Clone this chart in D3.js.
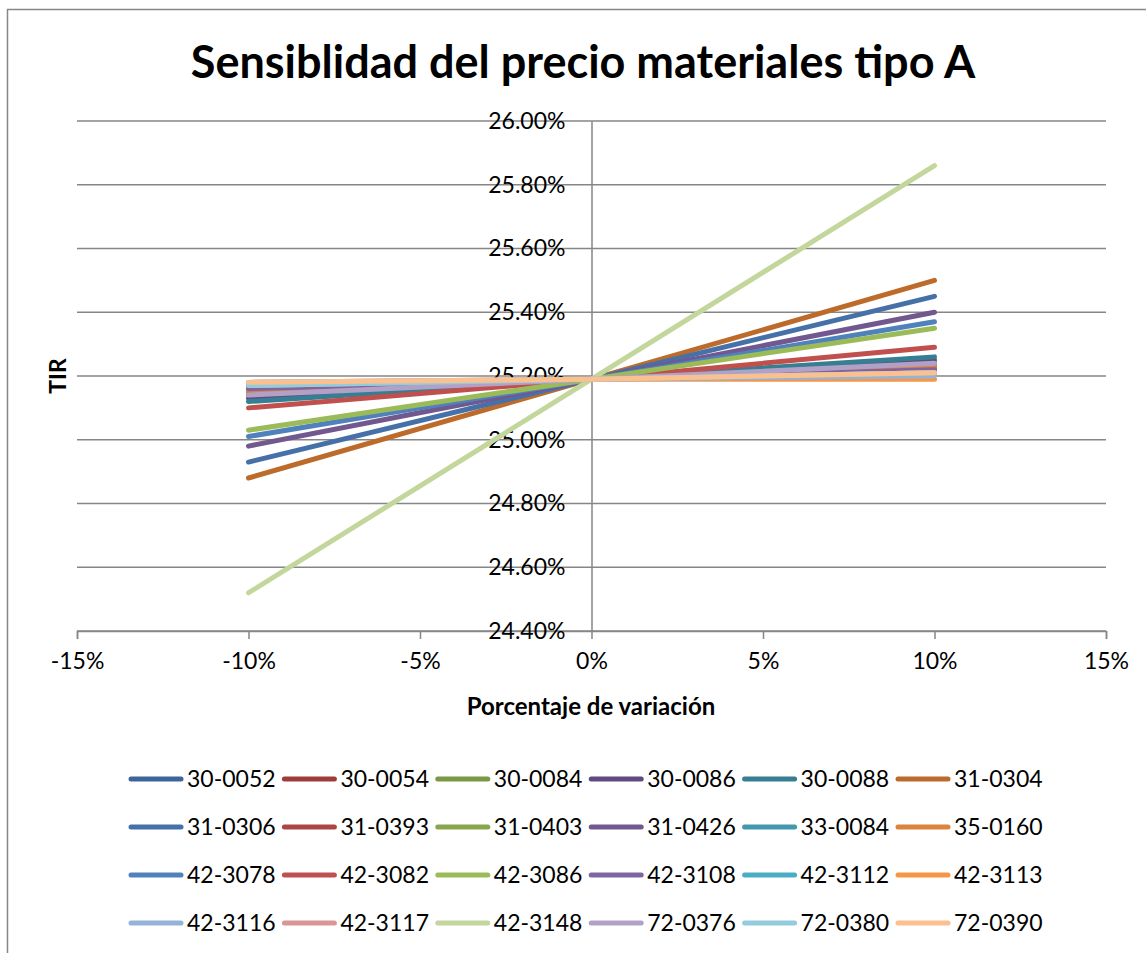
<!DOCTYPE html>
<html><head><meta charset="utf-8">
<script src="https://cdn.jsdelivr.net/npm/d3@7"></script>
<style>html,body{margin:0;padding:0;background:#fff;}svg{display:block;}</style>
</head><body>
<svg id="c" width="1146" height="953"></svg>
<script>
const title = "Sensiblidad del precio materiales tipo A";
const xTitle = "Porcentaje de variación";
const yTitle = "TIR";
const variations = [-0.10, 0, 0.10];
const seriesNames = ["30-0052","30-0054","30-0084","30-0086","30-0088","31-0304",
  "31-0306","31-0393","31-0403","31-0426","33-0084","35-0160",
  "42-3078","42-3082","42-3086","42-3108","42-3112","42-3113",
  "42-3116","42-3117","42-3148","72-0376","72-0380","72-0390"];
const seriesColors = ["#3C6699","#9D3D3A","#7D9845","#604B80","#367F93","#BD6B2B",
  "#4571A8","#AA4643","#89A54E","#71588F","#4198AF","#DB843D",
  "#4F81BD","#C0504D","#9BBB59","#8064A2","#4BACC6","#F79646",
  "#95B3D7","#D99694","#C3D69B","#B2A1C7","#93CDDD","#FAC090"];
// TIR (%) at -10%, 0%, +10%
const tirMinus10 = [25.14,25.15,25.16,25.13,25.12,24.88,
  24.93,25.16,25.17,24.98,25.17,25.15,
  25.01,25.10,25.03,25.16,25.17,25.18,
  25.18,25.17,24.52,25.14,25.17,25.18];
const tirZero = [25.19,25.19,25.19,25.19,25.19,25.19,
  25.19,25.19,25.19,25.19,25.19,25.19,
  25.19,25.19,25.19,25.19,25.19,25.19,
  25.19,25.19,25.19,25.19,25.19,25.19];
const tirPlus10 = [25.24,25.23,25.22,25.25,25.26,25.50,
  25.45,25.22,25.21,25.40,25.21,25.23,
  25.37,25.29,25.35,25.22,25.21,25.19,
  25.20,25.21,25.86,25.24,25.21,25.21];
const xTicks = [-0.15,-0.10,-0.05,0,0.05,0.10,0.15];
const yTicks = [24.4,24.6,24.8,25.0,25.2,25.4,25.6,25.8,26.0];

const FONT = "Lato, 'Open Sans', sans-serif";
const svg = d3.select("#c");
svg.append("rect").attr("x",7.5).attr("y",9.5).attr("width",1160).attr("height",960)
  .attr("fill","#fff").attr("stroke","#868686").attr("stroke-width",1.5);

const x = d3.scaleLinear().domain([-0.15,0.15]).range([77,1106]);
const y = d3.scaleLinear().domain([24.4,26.0]).range([631,121]);

// gridlines
svg.append("g").selectAll("line").data(yTicks).join("line")
  .attr("x1",x(-0.15)).attr("x2",x(0.15))
  .attr("y1",d=>y(d)).attr("y2",d=>y(d))
  .attr("stroke","#868686").attr("stroke-width",1.5);

// x axis at bottom
const xAxis = d3.axisBottom(x).tickValues(xTicks).tickSize(8).tickPadding(14)
  .tickFormat(d=>d3.format(".0%")(d).replace("−","-"));
const gx = svg.append("g").attr("transform",`translate(0,${y(24.4)})`).call(xAxis);
gx.select(".domain").attr("stroke","#868686").attr("stroke-width",1.5);
gx.selectAll(".tick line").attr("stroke","#868686").attr("stroke-width",1.5);
gx.selectAll("text").attr("font-family",FONT).attr("font-size",23).attr("fill","#000");

// y axis at x=0
const yAxis = d3.axisLeft(y).tickValues(yTicks).tickSize(0).tickPadding(26)
  .tickFormat(d=>d3.format(".2f")(d)+"%");
const gy = svg.append("g").attr("transform",`translate(${x(0)},0)`).call(yAxis);
gy.select(".domain").attr("stroke","#868686").attr("stroke-width",1.5);
gy.selectAll("text").attr("font-family",FONT).attr("font-size",23).attr("fill","#000");

// lines
const line = d3.line().x(d=>x(d[0])).y(d=>y(d[1]));
const seriesData = seriesNames.map((n,i)=>({name:n,color:seriesColors[i],
  pts:[[variations[0],tirMinus10[i]],[variations[1],tirZero[i]],[variations[2],tirPlus10[i]]]}));
svg.append("g").selectAll("path").data(seriesData).join("path")
  .attr("d",d=>line(d.pts)).attr("fill","none").attr("stroke",d=>d.color)
  .attr("stroke-width",5).attr("stroke-linecap","round").attr("stroke-linejoin","round");

// titles
svg.append("text").attr("x",583).attr("y",78).attr("text-anchor","middle")
  .attr("font-family",FONT).attr("font-weight","bold").attr("font-size",45).text(title);
svg.append("text").attr("x",591).attr("y",715).attr("text-anchor","middle")
  .attr("font-family",FONT).attr("font-weight","bold").attr("font-size",24).text(xTitle);
svg.append("text").attr("transform","translate(66,376) rotate(-90)").attr("text-anchor","middle")
  .attr("font-family",FONT).attr("font-weight","bold").attr("font-size",23).text(yTitle);

// legend
const colX = d3.scaleLinear().domain([0,5]).range([129,896]);
const rowY = [779,827,875,923];
const lg = svg.append("g").selectAll("g").data(seriesData).join("g")
  .attr("transform",(d,i)=>`translate(${colX(i%6)},${rowY[Math.floor(i/6)]})`);
lg.append("line").attr("x1",2).attr("x2",52).attr("y1",0).attr("y2",0)
  .attr("stroke",d=>d.color).attr("stroke-width",5).attr("stroke-linecap","round");
lg.append("text").attr("x",58).attr("y",0).attr("dy","0.35em")
  .attr("font-family",FONT).attr("font-size",23).text(d=>d.name);
</script>
</body></html>
